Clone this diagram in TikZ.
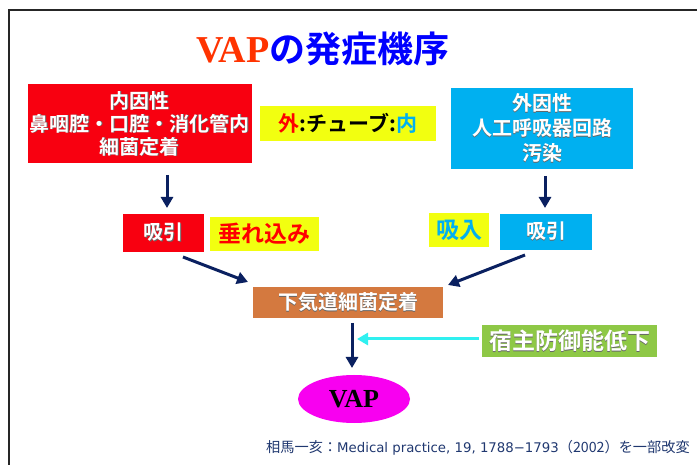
\documentclass[tikz,border=0pt]{standalone}
\usepackage{fontspec}
\usetikzlibrary{arrows.meta,shapes.geometric}
\setmainfont{Liberation Serif}
\newfontfamily\jp{Noto Sans CJK JP}[BoldFont={Noto Sans CJK JP Bold}]
\newfontfamily\djvsans{DejaVu Sans}
\definecolor{bxred}{HTML}{F80010}
\definecolor{bxblue}{HTML}{00B0F0}
\definecolor{bxyel}{HTML}{F2FF10}
\definecolor{bxora}{HTML}{D4793F}
\definecolor{bxgrn}{HTML}{8EC846}
\definecolor{bxmag}{HTML}{F800F0}
\definecolor{navy}{HTML}{0A2060}
\definecolor{arcyan}{HTML}{30F0F0}
\definecolor{titred}{HTML}{FF3300}
\definecolor{cite}{HTML}{203870}
\newcommand\sht[1]{\leavevmode\rlap{\kern0.9pt\raisebox{-0.9pt}{\textcolor{black!60}{#1}}}#1}
\tikzset{
  box/.style={draw=none, inner sep=0pt, align=center, text=white,
    font=\jp\bfseries\fontsize{20}{24}\selectfont},
  ylab/.style={fill=bxyel, inner sep=0pt, align=center,
    font=\jp\bfseries\fontsize{23}{23}\selectfont},
  navarrow/.style={draw=navy, line width=3pt, -{Triangle[width=12pt,length=11pt]}},
  cyarrow/.style={draw=arcyan, line width=3pt, -{Triangle[width=12pt,length=11pt]}},
}
\begin{document}
\begin{tikzpicture}[x=1pt,y=-1pt]
\useasboundingbox (0,0) rectangle (697,465);
\fill[white] (0,0) rectangle (697,465);
% frame
\draw[line width=1.6pt, black!85] (9,466) -- (9,10) -- (698,10);
% title
\node[anchor=base west, inner sep=0pt] (title) at (196,63)
  {{\color{titred}\bfseries\fontsize{38}{38}\selectfont VAP}{\jp\bfseries\color{blue}\fontsize{36}{36}\selectfont の発症機序}};
% top boxes
\node[box, fill=bxred, minimum width=224pt, minimum height=79pt] (endo) at (140,124)
  {\sht{内因性}\\[-1pt]\sht{鼻咽腔・口腔・消化管内}\\[-1pt]\sht{細菌定着}};
\node[box, fill=bxblue, minimum width=182pt, minimum height=81pt] (exo) at (542,128.5)
  {\sht{外因性}\\[1pt]\sht{人工呼吸器回路}\\[1pt]\sht{汚染}};
\node[ylab, minimum width=176pt, minimum height=35pt, font=\jp\bfseries\fontsize{21}{21}\selectfont] (tube) at (348,123.5)
  {\textcolor{red}{外}:チューブ:\textcolor{bxblue}{内}};
% second row
\node[box, fill=bxred, minimum width=81pt, minimum height=38pt] (suL) at (163.5,233) {\sht{吸引}};
\node[ylab, minimum width=109pt, minimum height=34pt, text=red] (tare) at (264.5,234) {垂れ込み};
\node[ylab, minimum width=60pt, minimum height=34pt, text=bxblue] (kyu) at (459,230) {吸入};
\node[box, fill=bxblue, minimum width=92pt, minimum height=36pt] (suR) at (546,232) {\sht{吸引}};
% middle
\node[box, fill=bxora, minimum width=190pt, minimum height=31pt] (lower) at (348,302.5) {\sht{下気道細菌定着}};
\node[box, fill=bxgrn, minimum width=175pt, minimum height=32pt, font=\jp\bfseries\fontsize{23}{23}\selectfont] (host) at (569.5,341) {\sht{宿主防御能低下}};
\node[ellipse, fill=bxmag, minimum width=112pt, minimum height=48pt, inner sep=0pt,
  font=\bfseries\fontsize{26}{26}\selectfont] (vap) at (354,399) {VAP};
% citation
\node[anchor=west, inner sep=0pt, text=cite, font=\jp\fontsize{14.2}{14.2}\selectfont] (cit) at (266,448)
  {相馬一亥：{\djvsans\fontsize{13.3}{13.3}\selectfont Medical practice, 19, 1788−1793}（2002）を一部改変};
% arrow end points
\coordinate (a1s) at (167,175); \coordinate (a1e) at (167,208);
\coordinate (a2s) at (545,176); \coordinate (a2e) at (545,208);
\coordinate (a3s) at (183,257); \coordinate (a3e) at (248,282);
\coordinate (a4s) at (525,255); \coordinate (a4e) at (448,285);
\coordinate (a5s) at (352,323); \coordinate (a5e) at (352,368);
\coordinate (a6s) at (479,339); \coordinate (a6e) at (357,339);
\draw[navarrow] (a1s) -- (a1e);
\draw[navarrow] (a2s) -- (a2e);
\draw[navarrow] (a3s) -- (a3e);
\draw[navarrow] (a4s) -- (a4e);
\draw[navarrow] (a5s) -- (a5e);
\draw[cyarrow] (a6s) -- (a6e);
\end{tikzpicture}
\end{document}
